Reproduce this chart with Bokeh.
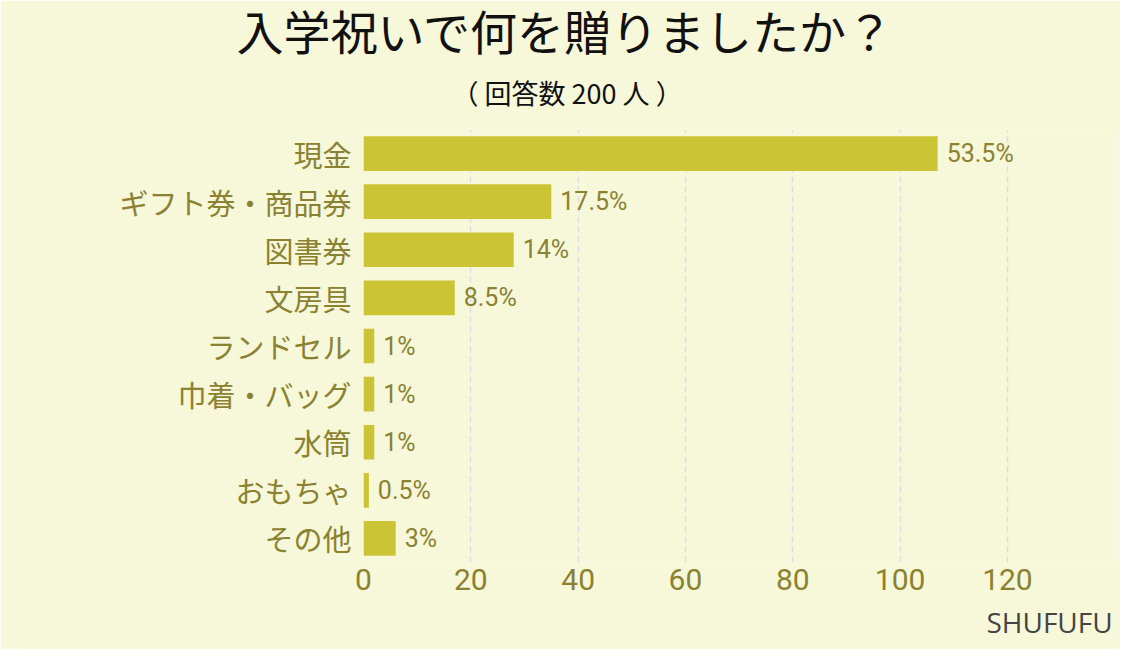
from bokeh.plotting import figure
from bokeh.models import ColumnDataSource, FactorRange, Range1d, FixedTicker, Title
from bokeh.core.properties import value
from bokeh.embed import file_html
from bokeh.resources import INLINE

categories = ["現金", "ギフト券・商品券", "図書券", "文房具", "ランドセル", "巾着・バッグ", "水筒", "おもちゃ", "その他"]
counts = [107, 35, 28, 17, 2, 2, 2, 1, 6]
pct_labels = ["53.5%", "17.5%", "14%", "8.5%", "1%", "1%", "1%", "0.5%", "3%"]
x_ticks = [0, 20, 40, 60, 80, 100, 120]

title_text = "入学祝いで何を贈りましたか？"
subtitle_text = "（ 回答数 200 人 ）"
credit_text = "SHUFUFU"

BG = "#f7f7da"
BAR = "#cbc434"
TXT = "#8a8230"
JP = "Noto Sans CJK JP"

src = ColumnDataSource(dict(cat=categories, cnt=counts, lab=pct_labels))

p = figure(
    width=1120, height=649,
    y_range=FactorRange(factors=list(reversed(categories)), range_padding=0),
    x_range=Range1d(0, 140.7),
    output_backend="svg", toolbar_location=None, title=None,
    min_border_left=363, min_border_right=2, min_border_top=129, min_border_bottom=87,
)
p.background_fill_color = BG
p.border_fill_color = BG
p.outline_line_color = None

p.hbar(y="cat", right="cnt", left=0, height=0.72, source=src, fill_color=BAR, line_color=None)
p.text(x="cnt", y="cat", text="lab", source=src, x_offset=9,
       text_align="left", text_baseline="middle",
       text_font=value("Roboto"), text_font_size="25px", text_color=TXT)

p.xaxis.ticker = FixedTicker(ticks=x_ticks)
p.xaxis.axis_line_color = None
p.xaxis.major_tick_line_color = None
p.xaxis.minor_tick_line_color = None
p.xaxis.major_label_text_font = "Roboto"
p.xaxis.major_label_text_font_size = "30px"
p.xaxis.major_label_text_color = TXT
p.xaxis.major_label_standoff = 0

p.yaxis.axis_line_color = None
p.yaxis.major_tick_line_color = None
p.yaxis.minor_tick_line_color = None
p.yaxis.major_label_text_font = JP
p.yaxis.major_label_text_font_size = "29px"
p.yaxis.major_label_text_color = TXT
p.yaxis.major_label_standoff = 6

p.ygrid.grid_line_color = None
p.xgrid.ticker = FixedTicker(ticks=x_ticks)
p.xgrid.grid_line_color = "#dcdce2"
p.xgrid.grid_line_dash = "6 4"
p.xgrid.grid_line_width = 1.5

p.add_layout(Title(text=subtitle_text, align="left", offset=88, standoff=35,
                   text_font=JP, text_font_size="27px",
                   text_font_style="normal", text_color="#111111"), "above")
p.add_layout(Title(text=title_text, align="left", offset=-127, standoff=-20,
                   text_font=JP, text_font_size="47px",
                   text_font_style="normal", text_color="#111111"), "above")
p.add_layout(Title(text=credit_text, align="left", offset=623, standoff=17,
                   text_font="Open Sans", text_font_size="28px",
                   text_font_style="normal", text_color="#444444"), "below")

open("out.html", "w").write(file_html(p, INLINE))
